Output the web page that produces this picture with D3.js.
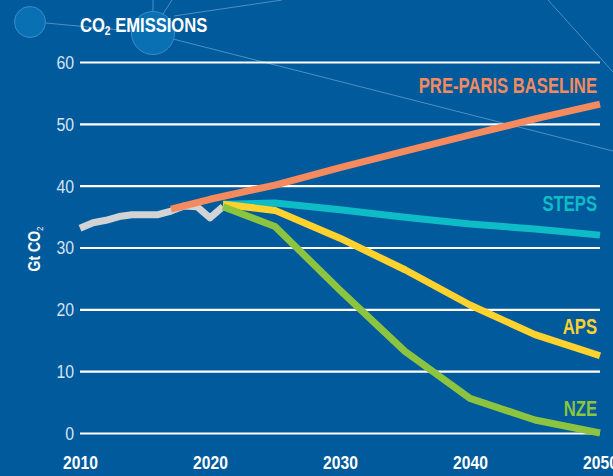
<!DOCTYPE html>
<html>
<head>
<meta charset="utf-8">
<script src="https://cdn.jsdelivr.net/npm/d3@7/dist/d3.min.js"></script>
<style>
  html, body { margin: 0; padding: 0; background: #005a9b; }
  svg { display: block; }
  text { font-family: "Liberation Sans", Arial, sans-serif; }
</style>
</head>
<body>
<svg id="chart" width="613" height="476"></svg>
<script>
// Historical emissions, 2010-2021 (Gt CO2)
const histYears = [2010, 2011, 2012, 2013, 2014, 2015, 2016, 2017, 2018, 2019, 2020, 2021];
const histValues = [33.1, 34.0, 34.4, 35.0, 35.3, 35.3, 35.3, 35.9, 36.7, 36.6, 34.8, 36.6];

// Scenario projections
const baselineYears = [2017, 2020, 2025, 2030, 2035, 2040, 2045, 2050];
const baselineValues = [36.2, 37.8, 40.1, 42.9, 45.6, 48.2, 50.8, 53.2];

const scenarioYears = [2021, 2025, 2030, 2035, 2040, 2045, 2050];
const stepsValues = [37.0, 37.2, 36.1, 34.9, 33.8, 33.0, 32.0];
const apsValues = [37.0, 36.0, 31.5, 26.4, 20.7, 15.9, 12.5];
const nzeValues = [36.6, 33.4, 23.1, 13.2, 5.6, 2.1, 0.0];

const yTicks = [0, 10, 20, 30, 40, 50, 60];
const xTicks = [2010, 2020, 2030, 2040, 2050];

const seriesNames = ["PRE-PARIS BASELINE", "STEPS", "APS", "NZE"];

const svg = d3.select("#chart");

// Horizontally condense a text element around its anchor point
function condense(sel, k) {
  sel.each(function () {
    const t = d3.select(this);
    const x0 = +t.attr("x") || 0, y0 = +t.attr("y") || 0;
    const prev = t.attr("transform") || "";
    t.attr("x", 0).attr("y", 0)
      .attr("transform", `${prev} translate(${x0},${y0}) scale(${k},1)`);
  });
}

// Background and decorative network
svg.append("rect").attr("width", 613).attr("height", 476).attr("fill", "#005a9b");
const deco = svg.append("g").attr("stroke", "#4f8fc6").attr("stroke-width", 1).attr("fill", "none");
[[46, 23, 131, 31], [153, 0, 153, 11], [163, 14, 172, 0], [174, 16, 282, 0],
 [173, 39, 613, 151], [548, 0, 613, 72]].forEach(([x1, y1, x2, y2]) => {
  deco.append("line").attr("x1", x1).attr("y1", y1).attr("x2", x2).attr("y2", y2);
});
[[30, 22, 15.5], [153, 33, 21.5]].forEach(([cx, cy, r]) => {
  svg.append("circle").attr("cx", cx).attr("cy", cy).attr("r", r)
    .attr("fill", "#0a70b4").attr("stroke", "#3a8ccc").attr("stroke-width", 1);
});

const x = d3.scaleLinear().domain([2010, 2050]).range([80, 600]);
const y = d3.scaleLinear().domain([0, 60]).range([433, 62]);

// Gridlines with y tick labels
const yAxis = svg.append("g").attr("transform", "translate(80,0)")
  .call(d3.axisLeft(y).tickValues(yTicks).tickSize(-520).tickPadding(6));
yAxis.select(".domain").remove();
yAxis.selectAll(".tick line").attr("stroke", "#ffffff").attr("stroke-width", 2.2);
yAxis.selectAll(".tick text").attr("fill", "#d6e4f3").attr("font-size", 18)
  .attr("font-family", "'Liberation Sans', Arial, sans-serif")
  .attr("dy", "0.36em").attr("x", -6).call(condense, 0.88);

// X tick labels
const xAxis = svg.append("g").attr("transform", "translate(0,469)")
  .call(d3.axisBottom(x).tickValues(xTicks).tickFormat(d3.format("d")).tickSize(0).tickPadding(0));
xAxis.select(".domain").remove();
xAxis.selectAll(".tick text").attr("fill", "#ffffff").attr("font-size", 18)
  .attr("font-weight", "bold").attr("dy", 0)
  .attr("font-family", "'Liberation Sans', Arial, sans-serif")
  .call(condense, 0.87);

const line = d3.line().x(d => x(d[0])).y(d => y(d[1]));
const zip = (a, b) => a.map((v, i) => [v, b[i]]);

function drawSeries(data, color) {
  svg.append("path").datum(data).attr("d", line)
    .attr("fill", "none").attr("stroke", color).attr("stroke-width", 7)
    .attr("stroke-linejoin", "round").attr("stroke-linecap", "butt");
}

drawSeries(zip(histYears, histValues), "#d1d3d4");
drawSeries(zip(scenarioYears, stepsValues), "#0ebcc8");
drawSeries(zip(scenarioYears, apsValues), "#ffd22e");
drawSeries(zip(scenarioYears, nzeValues), "#8dc43f");
drawSeries(zip(baselineYears, baselineValues), "#f58a5f");

// Series labels
const labels = [
  { name: seriesNames[0], y: 93, color: "#f58a5f" },
  { name: seriesNames[1], y: 211, color: "#0ebcc8" },
  { name: seriesNames[2], y: 334, color: "#ffd22e" },
  { name: seriesNames[3], y: 416, color: "#8dc43f" }
];
labels.forEach(l => {
  svg.append("text").attr("x", 597).attr("y", l.y).attr("text-anchor", "end")
    .attr("fill", l.color).attr("font-size", 21.5).attr("font-weight", "bold").text(l.name)
    .call(condense, 0.775);
});

// Title
const title = svg.append("text").attr("x", 80).attr("y", 32).attr("fill", "#ffffff")
  .attr("font-size", 21).attr("font-weight", "bold");
title.append("tspan").text("CO");
title.append("tspan").attr("font-size", 13).attr("dy", 3).text("2");
title.append("tspan").attr("dy", -3).text(" EMISSIONS");
title.call(condense, 0.79);

// Y axis title
const yTitle = svg.append("text").attr("transform", "translate(40,249) rotate(-90) scale(0.88,1)")
  .attr("text-anchor", "middle").attr("fill", "#ffffff").attr("font-size", 16).attr("font-weight", "bold");
yTitle.append("tspan").text("Gt CO");
yTitle.append("tspan").attr("font-size", 9).attr("dy", 3).attr("font-weight", "normal").text("2");
</script>
</body>
</html>
